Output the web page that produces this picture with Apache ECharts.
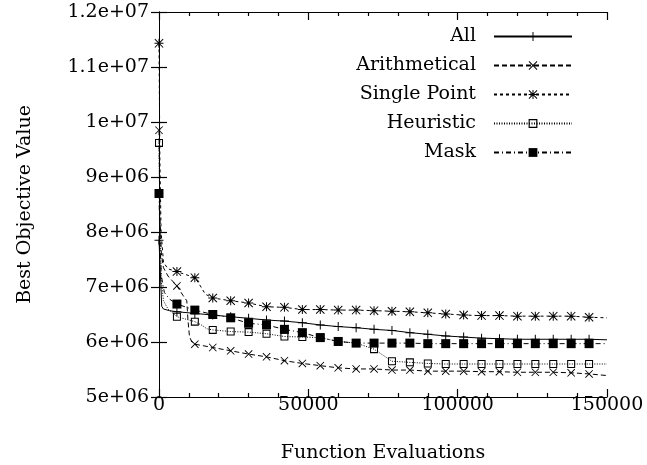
<!DOCTYPE html>
<html>
<head>
<meta charset="utf-8">
<script src="https://cdn.jsdelivr.net/npm/echarts@6/dist/echarts.min.js"></script>
<style>
  html, body { margin: 0; padding: 0; background: #fff; }
  #chart { width: 647px; height: 465px; }
</style>
</head>
<body>
<div id="chart"></div>
<script>
// Best objective value found so far, per crossover operator
const seriesNames = ['All', 'Arithmetical', 'Single Point', 'Heuristic', 'Mask'];
const xTickLabels = ['0', '50000', '100000', '150000'];
const yTickLabels = ['5e+06', '6e+06', '7e+06', '8e+06', '9e+06', '1e+07', '1.1e+07', '1.2e+07'];

const allEvals = [0, 500, 900, 1500, 3500, 6000, 12000, 18000, 24000, 30000, 36000, 42000, 48000, 54000, 60000,
  66000, 72000, 78000, 84000, 90000, 96000, 102000, 108000, 114000, 120000, 126000, 132000, 138000, 144000, 150000];
const allBest = [7.85e6, 7.2e6, 6.65e6, 6.6e6, 6.57e6, 6.55e6, 6.52e6, 6.49e6, 6.46e6, 6.43e6, 6.40e6, 6.38e6, 6.35e6, 6.31e6, 6.28e6,
  6.26e6, 6.23e6, 6.21e6, 6.17e6, 6.14e6, 6.11e6, 6.09e6, 6.07e6, 6.06e6, 6.05e6, 6.05e6, 6.05e6, 6.05e6, 6.05e6, 6.04e6];

const arithEvals = [0, 300, 800, 1500, 3000, 6000, 8000, 9300, 9700, 10200, 11000, 12000, 18000, 24000, 30000, 36000, 42000,
  48000, 54000, 60000, 66000, 72000, 78000, 84000, 90000, 96000, 102000, 108000, 114000, 120000, 126000, 132000, 138000, 144000, 150000];
const arithBest = [9.85e6, 8.3e6, 7.6e6, 7.35e6, 7.2e6, 7.02e6, 6.85e6, 6.75e6, 6.4e6, 6.1e6, 6.0e6, 5.96e6, 5.90e6, 5.84e6, 5.78e6, 5.73e6, 5.66e6,
  5.61e6, 5.57e6, 5.53e6, 5.51e6, 5.51e6, 5.49e6, 5.49e6, 5.47e6, 5.47e6, 5.47e6, 5.46e6, 5.46e6, 5.45e6, 5.45e6, 5.45e6, 5.44e6, 5.42e6, 5.39e6];

const singleEvals = [0, 300, 700, 1500, 3000, 6000, 12000, 13500, 15500, 18000, 24000, 30000, 36000, 42000, 48000, 54000, 60000,
  66000, 72000, 78000, 84000, 90000, 96000, 102000, 108000, 114000, 120000, 126000, 132000, 138000, 144000, 150000];
const singleBest = [1.143e7, 9.3e6, 8.0e6, 7.45e6, 7.33e6, 7.28e6, 7.17e6, 7.05e6, 6.87e6, 6.80e6, 6.75e6, 6.71e6, 6.64e6, 6.63e6, 6.59e6, 6.59e6, 6.58e6,
  6.58e6, 6.57e6, 6.56e6, 6.55e6, 6.53e6, 6.51e6, 6.49e6, 6.48e6, 6.48e6, 6.47e6, 6.47e6, 6.47e6, 6.47e6, 6.45e6, 6.44e6];

const heurEvals = [0, 300, 800, 1500, 3000, 6000, 12000, 14500, 16000, 18000, 24000, 30000, 36000, 42000, 48000, 54000, 60000,
  66000, 72000, 78000, 84000, 90000, 96000, 102000, 108000, 114000, 120000, 126000, 132000, 138000, 144000, 150000];
const heurBest = [9.62e6, 8.2e6, 7.1e6, 6.75e6, 6.6e6, 6.46e6, 6.37e6, 6.30e6, 6.24e6, 6.22e6, 6.19e6, 6.18e6, 6.15e6, 6.10e6, 6.09e6, 6.08e6, 6.01e6,
  5.98e6, 5.87e6, 5.65e6, 5.63e6, 5.61e6, 5.60e6, 5.60e6, 5.60e6, 5.60e6, 5.60e6, 5.60e6, 5.60e6, 5.60e6, 5.60e6, 5.60e6];

const maskEvals = [0, 300, 800, 1800, 3500, 6000, 12000, 18000, 24000, 30000, 36000, 42000, 48000, 54000, 60000,
  66000, 72000, 78000, 84000, 90000, 96000, 102000, 108000, 114000, 120000, 126000, 132000, 138000, 144000, 150000];
const maskBest = [8.70e6, 7.8e6, 7.2e6, 6.9e6, 6.78e6, 6.69e6, 6.58e6, 6.50e6, 6.44e6, 6.34e6, 6.31e6, 6.23e6, 6.17e6, 6.08e6, 6.01e6,
  5.98e6, 5.98e6, 5.98e6, 5.98e6, 5.97e6, 5.97e6, 5.97e6, 5.97e6, 5.97e6, 5.97e6, 5.97e6, 5.97e6, 5.97e6, 5.97e6, 5.97e6];

// point markers are drawn every 6000 evaluations
const markerStep = 6000;
const lastMarkerEval = 144000;

const FONT = '"DejaVu Serif", serif';
const FONT_SIZE = 19;

// point shapes (filled outlines, 10x10 design box)
const plusPath = 'M4.45,0H5.55V10H4.45Z M0,4.45H10V5.55H0Z';
const crossPath = 'M0,0.78L0.78,0L10,9.22L9.22,10Z M9.22,0L10,0.78L0.78,10L0,9.22Z';
const SYM_PLUS = 'path://' + plusPath;
const SYM_CROSS = 'path://' + crossPath;
const SYM_STAR = 'path://' + plusPath + ' ' + crossPath;
const SYM_OPEN_SQUARE = 'path://M0,0H10V10H0Z M1.3,1.3V8.7H8.7V1.3Z';

function buildData(evals, values) {
  return evals.map(function (x, i) {
    const item = { value: [x, values[i]] };
    if (!(x % markerStep === 0 && x <= lastMarkerEval)) item.symbol = 'none';
    return item;
  });
}

function lineSeries(name, evals, values, symbol, symbolSize, dash) {
  return {
    name: name,
    type: 'line',
    data: buildData(evals, values),
    symbol: symbol,
    symbolSize: symbolSize,
    showAllSymbol: true,
    lineStyle: { color: '#000', width: 1, type: dash },
    itemStyle: { color: '#000', borderWidth: 0 },
    emphasis: { disabled: true },
    z: 2
  };
}

// every axis gets its own style objects: black frame, inward ticks
function axisLine() { return { show: true, lineStyle: { color: '#000', width: 1 } }; }
function axisTick() { return { show: true, inside: true, length: 8, lineStyle: { color: '#000', width: 1.2 } }; }
function minorTick() { return { show: true, splitNumber: 5, length: 4, lineStyle: { color: '#000', width: 1.2 } }; }

const chart = echarts.init(document.getElementById('chart'), null, { renderer: 'canvas' });

chart.setOption({
  animation: false,
  backgroundColor: '#fff',
  grid: { left: 159, right: 40, top: 12, bottom: 68, containLabel: false, outerBoundsMode: 'none' },
  legend: {
    orient: 'vertical',
    align: 'right',
    right: 69,
    top: 22,
    itemWidth: 78,
    itemHeight: 11,
    itemGap: 10,
    data: seriesNames,
    textStyle: { fontFamily: FONT, fontSize: FONT_SIZE, color: '#000', padding: [0, 13, 0, 0] },
    selectedMode: false
  },
  xAxis: [
    {
      type: 'value', position: 'bottom', min: 0, max: 150000, interval: 50000,
      name: 'Function Evaluations', nameLocation: 'middle', nameGap: 47,
      nameTextStyle: { fontFamily: FONT, fontSize: FONT_SIZE, color: '#000' },
      axisLine: axisLine(), axisTick: axisTick(), minorTick: minorTick(),
      splitLine: { show: false },
      axisLabel: {
        fontFamily: FONT, fontSize: FONT_SIZE, color: '#000', margin: -1,
        formatter: function (v) { return xTickLabels[Math.round(v / 50000)]; }
      }
    },
    {
      type: 'value', position: 'top', min: 0, max: 150000, interval: 50000,
      axisLine: axisLine(), axisTick: axisTick(), minorTick: minorTick(),
      splitLine: { show: false }, axisLabel: { show: false }
    }
  ],
  yAxis: [
    {
      type: 'value', position: 'left', min: 5e6, max: 1.2e7, interval: 1e6,
      name: 'Best Objective Value', nameLocation: 'middle', nameGap: 124, nameRotate: 90,
      nameTextStyle: { fontFamily: FONT, fontSize: FONT_SIZE, color: '#000' },
      axisLine: axisLine(), axisTick: axisTick(),
      splitLine: { show: false },
      axisLabel: {
        fontFamily: FONT, fontSize: FONT_SIZE, color: '#000', margin: 10,
        formatter: function (v) { return yTickLabels[Math.round((v - 5e6) / 1e6)]; }
      }
    },
    {
      type: 'value', position: 'right', min: 5e6, max: 1.2e7, interval: 1e6,
      axisLine: axisLine(), axisTick: axisTick(),
      splitLine: { show: false }, axisLabel: { show: false }
    }
  ],
  series: [
    lineSeries(seriesNames[0], allEvals, allBest, SYM_PLUS, 9, 'solid'),
    lineSeries(seriesNames[1], arithEvals, arithBest, SYM_CROSS, 8, [5, 3]),
    lineSeries(seriesNames[2], singleEvals, singleBest, SYM_STAR, 9, [3, 3]),
    lineSeries(seriesNames[3], heurEvals, heurBest, SYM_OPEN_SQUARE, 8, [1, 1.5]),
    lineSeries(seriesNames[4], maskEvals, maskBest, 'rect', 9, [5, 3, 1, 3])
  ]
});
</script>
</body>
</html>
